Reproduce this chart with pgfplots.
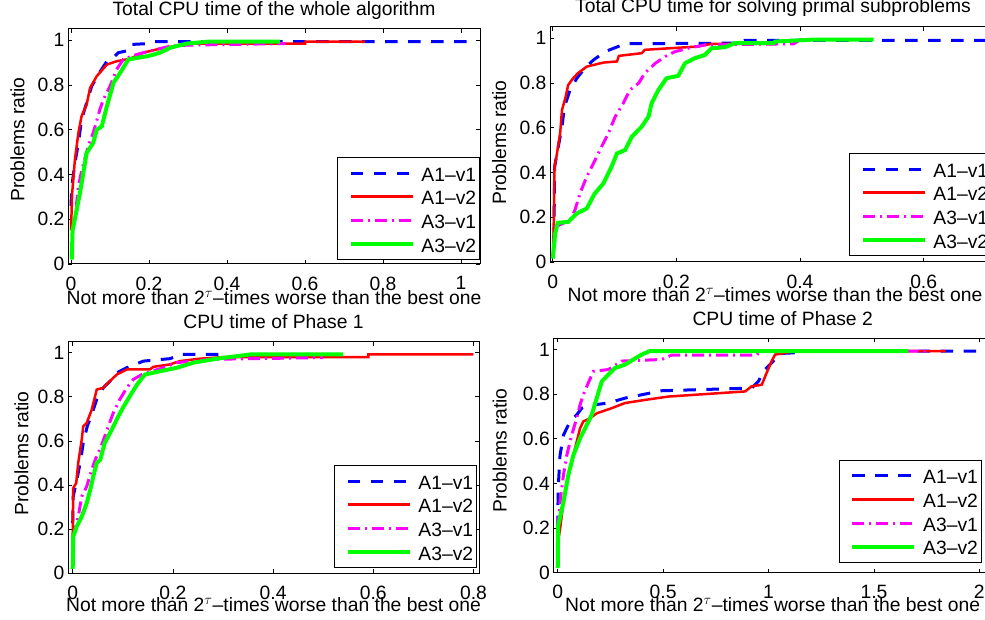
\documentclass[border=0pt]{standalone}
\usepackage{fontspec}
\setmainfont{Liberation Sans}
\usepackage{pgfplots}
\pgfplotsset{compat=1.18}
\usetikzlibrary{calc}

\definecolor{mblue}{RGB}{0,0,255}
\definecolor{mred}{RGB}{255,0,0}
\definecolor{mmag}{RGB}{255,0,255}
\definecolor{mgreen}{RGB}{0,255,0}

\pgfplotsset{
  pp/.style={
    scale only axis, anchor=south west,
    ymin=0, ymax=1.05,
    ytick={0,0.2,0.4,0.6,0.8,1},
    tick align=inside, tick pos=both, major tick length=4pt,
    every tick/.style={black, line width=0.8pt},
    axis line style={line width=1pt},
    font=\fontsize{19.3}{23}\selectfont,
    /pgf/number format/assume math mode=true,
    xticklabel style={inner sep=0pt, yshift=-12.4pt},
    title style={at={(axis description cs:0.5,1)}, anchor=base, inner sep=0pt, yshift=7pt},
    ylabel={Problems ratio},
    xlabel={Not more than 2$^{\tau}$–times worse than the best one},
    legend cell align=left,
    legend image code/.code={\path (0pt,0pt); \draw (8pt,0pt) -- (70pt,0pt);},
    legend style={at={(axis description cs:1,0)}, anchor=south east,
      draw=black, line width=1pt, fill=white,
      inner xsep=3.3pt, inner ysep=3.5pt, column sep=6.7pt, row sep=0pt,
      nodes={inner sep=0pt, text height=19.9pt, text depth=3.8pt}},
  },
  a1/.style={mblue, line width=3pt, dash pattern=on 12.5pt off 10.5pt},
  a2/.style={mred, line width=2.5pt},
  a3/.style={mmag, line width=3pt, dash pattern=on 12pt off 5pt on 2pt off 5pt},
  a4/.style={mgreen, line width=4pt},
}

\begin{document}
\begin{tikzpicture}
\useasboundingbox (0pt,0pt) rectangle (985pt,620pt);
\clip (0pt,0pt) rectangle (985pt,620pt);

% top left
\begin{axis}[pp, at={(68pt,356pt)}, width=412pt, height=235pt,
  xmin=-0.0077, xmax=1.0487, xtick={0,0.2,0.4,0.6,0.8,1},
  title={Total CPU time of the whole algorithm},
  xlabel style={at={(axis description cs:0.5,0)}, anchor=base, inner sep=0pt, yshift=-41pt},
  ylabel style={at={($(axis description cs:0,0.5)+(-43.7pt,7pt)$)}, anchor=base, inner sep=0pt},
  legend style={yshift=4pt}]
\addplot[a1] coordinates {(0,0.26) (0.002,0.347) (0.010,0.45) (0.019,0.54) (0.027,0.645) (0.040,0.72) (0.053,0.794) (0.070,0.847) (0.092,0.906) (0.105,0.915) (0.121,0.944) (0.150,0.955) (0.156,0.981) (0.200,0.985) (0.210,0.993) (1.03,0.993)};
\addplot[a2] coordinates {(0,0.15) (0.003,0.317) (0.010,0.466) (0.019,0.586) (0.027,0.66) (0.040,0.712) (0.049,0.787) (0.066,0.839) (0.092,0.891) (0.117,0.906) (0.151,0.917) (0.185,0.944) (0.228,0.962) (0.254,0.970) (0.297,0.985) (0.60,0.985) (0.60,0.993) (0.754,0.993)};
\addplot[a3] coordinates {(0.003,0.15) (0.010,0.198) (0.019,0.347) (0.027,0.414) (0.044,0.526) (0.057,0.586) (0.074,0.69) (0.083,0.735) (0.1,0.794) (0.117,0.869) (0.134,0.914) (0.168,0.936) (0.211,0.955) (0.254,0.973) (0.30,0.978) (0.55,0.985)};
\addplot[a4] coordinates {(0.002,0.02) (0.004,0.15) (0.023,0.317) (0.040,0.496) (0.057,0.541) (0.066,0.60) (0.079,0.615) (0.092,0.705) (0.109,0.81) (0.126,0.854) (0.147,0.914) (0.20,0.93) (0.228,0.944) (0.254,0.966) (0.297,0.985) (0.35,0.993) (0.536,0.993)};
\legend{A1–v1, A1–v2, A3–v1, A3–v2}
\end{axis}

% top right
\begin{axis}[pp, at={(550pt,358pt)}, width=446pt, height=235pt,
  xmin=-0.0044, xmax=0.717, xtick={0,0.2,0.4,0.6},
  title={Total CPU time for solving primal subproblems},
  title style={yshift=1.5pt},
  xlabel style={at={(axis description cs:0.5,0)}, anchor=base, inner sep=0pt, yshift=-40pt, xshift=2pt},
  ylabel style={at={($(axis description cs:0,0.5)+(-44pt,2pt)$)}, anchor=base, inner sep=0pt},
  legend style={xshift=-4pt, yshift=6pt}]
\addplot[a1] coordinates {(0.002,0.1) (0.003,0.42) (0.004,0.44) (0.009,0.515) (0.015,0.605) (0.019,0.694) (0.028,0.769) (0.039,0.821) (0.052,0.866) (0.066,0.903) (0.085,0.940) (0.117,0.975) (0.30,0.978) (0.31,0.99) (0.72,0.99)};
\addplot[a2] coordinates {(0.001,0.05) (0.003,0.43) (0.006,0.47) (0.012,0.575) (0.015,0.679) (0.021,0.739) (0.025,0.791) (0.033,0.821) (0.041,0.844) (0.055,0.873) (0.082,0.891) (0.104,0.896) (0.107,0.921) (0.144,0.933) (0.149,0.948) (0.236,0.963) (0.257,0.975) (0.36,0.975) (0.36,0.985) (0.42,0.993) (0.45,0.993)};
\addplot[a3] coordinates {(0.001,0.05) (0.004,0.157) (0.028,0.187) (0.036,0.232) (0.044,0.306) (0.055,0.381) (0.066,0.441) (0.079,0.515) (0.090,0.575) (0.101,0.649) (0.114,0.709) (0.125,0.769) (0.139,0.799) (0.149,0.844) (0.166,0.888) (0.182,0.918) (0.198,0.940) (0.219,0.955) (0.246,0.970) (0.39,0.975) (0.40,0.993) (0.45,0.993)};
\addplot[a4] coordinates {(0,0.015) (0.004,0.127) (0.008,0.175) (0.025,0.179) (0.039,0.217) (0.055,0.239) (0.068,0.306) (0.082,0.351) (0.095,0.425) (0.104,0.485) (0.117,0.50) (0.128,0.56) (0.144,0.605) (0.155,0.65) (0.160,0.709) (0.171,0.769) (0.184,0.821) (0.203,0.832) (0.214,0.888) (0.230,0.911) (0.246,0.925) (0.257,0.955) (0.279,0.960) (0.295,0.978) (0.357,0.978) (0.36,0.985) (0.417,0.993) (0.519,0.993)};
\legend{A1–v1, A1–v2, A3–v1, A3–v2}
\end{axis}

% bottom left
\begin{axis}[pp, at={(68pt,46.7pt)}, width=411pt, height=231.6pt,
  xmin=-0.0094, xmax=0.811, xtick={0,0.2,0.4,0.6,0.8},
  title={CPU time of Phase 1},
  xlabel style={at={(axis description cs:0.5,0)}, anchor=base, inner sep=0pt, yshift=-38.5pt},
  ylabel style={at={($(axis description cs:0,0.5)+(-39.7pt,4pt)$)}, anchor=base, inner sep=0pt},
  legend style={xshift=-2pt, yshift=5.3pt}]
\addplot[a1] coordinates {(0,0.227) (0.001,0.348) (0.011,0.455) (0.016,0.515) (0.021,0.591) (0.029,0.666) (0.038,0.72) (0.048,0.788) (0.061,0.841) (0.078,0.879) (0.088,0.909) (0.108,0.932) (0.141,0.962) (0.194,0.973) (0.218,0.993) (0.30,0.993)};
\addplot[a2] coordinates {(0,0.166) (0.001,0.386) (0.007,0.409) (0.011,0.5) (0.018,0.606) (0.021,0.666) (0.028,0.682) (0.038,0.742) (0.048,0.833) (0.061,0.841) (0.074,0.871) (0.088,0.901) (0.108,0.924) (0.154,0.924) (0.161,0.936) (0.194,0.947) (0.214,0.962) (0.254,0.973) (0.30,0.98) (0.59,0.98) (0.59,0.993) (0.80,0.993)};
\addplot[a3] coordinates {(0.001,0.166) (0.011,0.257) (0.018,0.348) (0.028,0.394) (0.038,0.47) (0.045,0.515) (0.058,0.583) (0.071,0.666) (0.081,0.727) (0.094,0.788) (0.108,0.841) (0.121,0.879) (0.138,0.901) (0.174,0.927) (0.208,0.955) (0.274,0.970) (0.50,0.978)};
\addplot[a4] coordinates {(0,0.02) (0.001,0.166) (0.008,0.212) (0.018,0.257) (0.028,0.318) (0.035,0.379) (0.041,0.439) (0.048,0.5) (0.055,0.515) (0.064,0.591) (0.078,0.651) (0.091,0.712) (0.104,0.765) (0.118,0.818) (0.131,0.864) (0.144,0.901) (0.174,0.916) (0.208,0.932) (0.241,0.955) (0.288,0.973) (0.354,0.992) (0.54,0.993)};
\legend{A1–v1, A1–v2, A3–v1, A3–v2}
\end{axis}

% bottom right
\begin{axis}[pp, at={(553.3pt,47.3pt)}, width=458.7pt, height=234.4pt,
  xmin=-0.021, xmax=2.155, xtick={0,0.5,1,1.5,2},
  title={CPU time of Phase 2},
  xlabel style={at={(axis description cs:0.5,0)}, anchor=base, inner sep=0pt, yshift=-39pt, xshift=-10pt},
  ylabel style={at={($(axis description cs:0,0.5)+(-46.6pt,5pt)$)}, anchor=base, inner sep=0pt},
  legend style={xshift=-30.3pt, yshift=10pt}]
\addplot[a1] coordinates {(0,0.2) (0.002,0.376) (0.011,0.526) (0.027,0.616) (0.058,0.677) (0.09,0.707) (0.114,0.737) (0.145,0.749) (0.240,0.76) (0.319,0.782) (0.398,0.797) (0.493,0.815) (0.920,0.827) (0.952,0.857) (0.975,0.902) (1.023,0.948) (1.047,0.981) (1.118,0.985) (1.12,0.993) (2.2,0.993)};
\addplot[a2] coordinates {(0,0.13) (0.011,0.195) (0.027,0.316) (0.05,0.436) (0.074,0.526) (0.09,0.587) (0.106,0.647) (0.121,0.677) (0.153,0.692) (0.185,0.714) (0.256,0.737) (0.319,0.76) (0.414,0.774) (0.525,0.789) (0.762,0.804) (0.889,0.812) (0.920,0.835) (0.968,0.842) (0.991,0.895) (1.015,0.948) (1.031,0.977) (1.11,0.99) (1.84,0.993)};
\addplot[a3] coordinates {(0,0.2) (0.011,0.316) (0.027,0.436) (0.043,0.526) (0.066,0.616) (0.090,0.692) (0.106,0.752) (0.121,0.797) (0.138,0.835) (0.169,0.902) (0.240,0.910) (0.304,0.948) (0.493,0.955) (0.541,0.975) (0.944,0.975) (0.96,0.993) (1.75,0.993)};
\addplot[a4] coordinates {(0,0.02) (0.002,0.21) (0.027,0.316) (0.05,0.436) (0.074,0.526) (0.106,0.602) (0.13,0.647) (0.161,0.707) (0.185,0.782) (0.209,0.857) (0.240,0.887) (0.272,0.917) (0.319,0.932) (0.359,0.955) (0.398,0.977) (0.438,0.993) (1.663,0.993)};
\legend{A1–v1, A1–v2, A3–v1, A3–v2}
\end{axis}
\end{tikzpicture}
\end{document}
